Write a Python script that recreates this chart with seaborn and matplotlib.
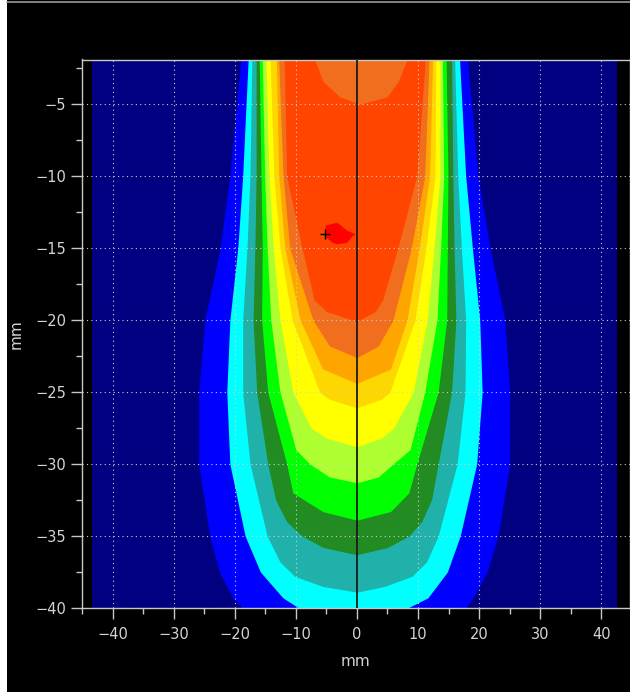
import matplotlib
matplotlib.use("Agg")
import matplotlib.pyplot as plt
import seaborn as sns
import pandas as pd
from matplotlib.ticker import MultipleLocator
from matplotlib.lines import Line2D

# ---------------- data (mm) ----------------
# measured field extent (navy background)
field_y = [-40.0, -1.9]
field_left = [-43.3, -43.3]
field_right = [42.5, 42.5]

# iso-level bands, outermost to innermost: depth, left edge, right edge
blue_y = [-1.9, -10, -15, -20, -25, -30, -35, -37.5, -39.3, -40]
blue_left = [-19.0, -20.8, -22.4, -24.9, -25.9, -25.9, -24.1, -22.5, -20.3, -18.7]
blue_right = [18.1, 19.8, 21.8, 24.2, 25.0, 25.0, 23.1, 21.3, 19.0, 17.8]

cyan_y = [-1.9, -10, -15, -20, -25, -30, -35, -37.5, -39.3, -40]
cyan_left = [-17.8, -18.7, -19.5, -20.8, -21.3, -20.8, -18.3, -15.8, -12.1, -9.5]
cyan_right = [16.8, 17.8, 18.9, 20.1, 20.5, 19.6, 16.9, 14.8, 11.6, 8.3]

teal_y = [-1.9, -10, -15, -20, -25, -30, -35, -36.8, -37.8, -38.5, -38.9]
teal_left = [-17.2, -17.5, -18.0, -18.7, -18.7, -17.5, -14.7, -12.6, -10.2, -5.6, 0.0]
teal_right = [16.0, 16.5, 17.1, 17.8, 17.7, 16.4, 13.3, 11.4, 9.0, 4.5, 0.0]

green_y = [-1.9, -10, -15, -20, -25, -30, -32.5, -34.0, -35.0, -35.8, -36.3]
green_left = [-16.5, -16.5, -16.7, -17.0, -16.4, -14.6, -13.3, -11.5, -9.0, -5.5, 0.0]
green_right = [15.5, 15.7, 15.9, 16.2, 15.5, 13.3, 12.2, 10.6, 8.5, 5.0, 0.0]

lime_y = [-1.9, -10, -15, -20, -25, -30, -32.0, -33.3, -33.9]
lime_left = [-16.0, -15.7, -15.5, -15.6, -14.6, -11.5, -10.5, -5.6, 0.0]
lime_right = [14.6, 14.9, 14.8, 14.7, 13.3, 9.8, 8.5, 5.5, 0.0]

greenyellow_y = [-1.9, -10, -15, -20, -25, -29.0, -30.0, -30.9, -31.3]
greenyellow_left = [-15.5, -15.1, -14.7, -14.1, -12.6, -10.0, -7.7, -4.5, 0.0]
greenyellow_right = [14.0, 14.2, 13.7, 13.1, 11.1, 8.7, 5.9, 3.5, 0.0]

yellow_y = [-1.9, -10, -15, -20, -25, -27.5, -28.2, -28.8]
yellow_left = [-14.9, -14.4, -13.7, -12.6, -10.5, -7.5, -5.0, 0.0]
yellow_right = [13.6, 13.6, 12.6, 11.5, 9.2, 6.0, 4.0, 0.0]

gold_y = [-1.9, -10, -15, -20, -25, -25.5, -26.1]
gold_left = [-14.2, -13.6, -12.6, -10.6, -6.1, -4.5, 0.0]
gold_right = [12.9, 12.8, 11.3, 9.5, 5.4, 4.0, 0.0]

orange_y = [-1.9, -10, -15, -20, -23.4, -24.4]
orange_left = [-13.2, -12.8, -11.8, -9.3, -5.6, 0.0]
orange_right = [12.4, 11.9, 10.2, 8.2, 5.5, 0.0]

lightorange_y = [-1.9, -10, -15, -20, -21.8, -22.6]
lightorange_left = [-12.8, -12.1, -11.0, -7.2, -4.5, 0.0]
lightorange_right = [11.8, 11.1, 8.9, 5.9, 3.5, 0.0]

orangered_y = [-1.9, -10, -15, -18.6, -19.4, -20.1]
orangered_left = [-11.9, -11.5, -9.0, -7.0, -5.0, 0.0]
orangered_right = [11.2, 9.8, 6.7, 4.2, 3.0, 0.0]

# lower-level patch at the surface (build-up region)
surface_y = [-1.9, -3.4, -4.5, -5.0]
surface_left = [-6.9, -5.6, -2.8, 0.5]
surface_right = [8.2, 6.8, 4.9, 0.5]

# maximum
red_y = [-13.2, -13.4, -13.75, -14.0, -14.2, -14.6, -14.7]
red_left = [-3.3, -5.2, -5.2, -5.2, -5.2, -4.0, -3.3]
red_right = [-3.3, -2.7, -1.7, -0.3, -0.9, -1.7, -3.3]

max_point = pd.DataFrame({"x": [-5.2], "y": [-14.0]})
central_axis_x = 0.0

x_ticks = [-40, -30, -20, -10, 0, 10, 20, 30, 40]
y_ticks = [-5, -10, -15, -20, -25, -30, -35, -40]

# ---------------- styling ----------------
sns.set_theme(style="ticks")
plt.rcParams['font.family'] = ['DejaVu Sans']

fig = plt.figure(figsize=(6.3, 6.92), dpi=100, facecolor="white")
fig.patches.append(plt.Rectangle((7 / 630, 0), 1, 1, transform=fig.transFigure,
                                 facecolor="black", edgecolor="none", zorder=-10))
fig.lines.append(Line2D([7 / 630, 1], [1 - 1.5 / 692, 1 - 1.5 / 692],
                        transform=fig.transFigure, color="#9a9a9a", lw=1.2, zorder=-9))
ax = fig.add_axes([82 / 630, 1 - 608 / 692, 1 - 82 / 630, (608 - 59.5) / 692])
ax.set_zorder(1)
ax.set_facecolor("black")

bands = [
    (field_y, field_left, field_right, "#000080"),
    (blue_y, blue_left, blue_right, "#0000FF"),
    (cyan_y, cyan_left, cyan_right, "#00FFFF"),
    (teal_y, teal_left, teal_right, "#20B2AA"),
    (green_y, green_left, green_right, "#228B22"),
    (lime_y, lime_left, lime_right, "#00FF00"),
    (greenyellow_y, greenyellow_left, greenyellow_right, "#ADFF2F"),
    (yellow_y, yellow_left, yellow_right, "#FFFF00"),
    (gold_y, gold_left, gold_right, "#FFD700"),
    (orange_y, orange_left, orange_right, "#FFA500"),
    (lightorange_y, lightorange_left, lightorange_right, "#F06E1E"),
    (orangered_y, orangered_left, orangered_right, "#FF4500"),
    (surface_y, surface_left, surface_right, "#F06E1E"),
    (red_y, red_left, red_right, "#FF0000"),
]
for i, (yy, xl, xr, col) in enumerate(bands):
    ax.fill_betweenx(yy, xl, xr, color=col, linewidth=0, zorder=1 + i * 0.01)

ax.axvline(central_axis_x, color="#1a1a1a", lw=1.3, zorder=3)
sns.scatterplot(data=max_point, x="x", y="y", marker="+", s=60, color="black",
                linewidth=1.0, ax=ax, zorder=4, legend=False)

ax.set_xlim(-45, 44.7)
ax.set_ylim(-40, -1.9)
ax.set_xticks(x_ticks)
ax.set_yticks(y_ticks)
ax.xaxis.set_minor_locator(MultipleLocator(5))
ax.yaxis.set_minor_locator(MultipleLocator(2.5))

ax.set_axisbelow(False)
ax.grid(True, which="major", color="#d0d0d0", linestyle=(0, (1, 3)), linewidth=0.8, zorder=2)

tick_col = "#c8c8c8"
ax.tick_params(axis="both", which="major", direction="out", length=8, width=1,
               color=tick_col, labelcolor="#d4d4d4", labelsize=10.5,
               bottom=True, left=True, top=False, right=False)
ax.tick_params(axis="both", which="minor", direction="out", length=4.5, width=1,
               color=tick_col, bottom=True, left=True, top=False, right=False)
ax.tick_params(axis="x", which="major", pad=6)

for side in ["left", "bottom", "top", "right"]:
    ax.spines[side].set_color(tick_col)
    ax.spines[side].set_linewidth(1)

ax.set_xlabel("mm", color="#d4d4d4", fontsize=11, labelpad=8)
ax.set_ylabel("mm", color="#d4d4d4", fontsize=11, labelpad=8)

fig.savefig("out.png", dpi=100, facecolor=fig.get_facecolor())
